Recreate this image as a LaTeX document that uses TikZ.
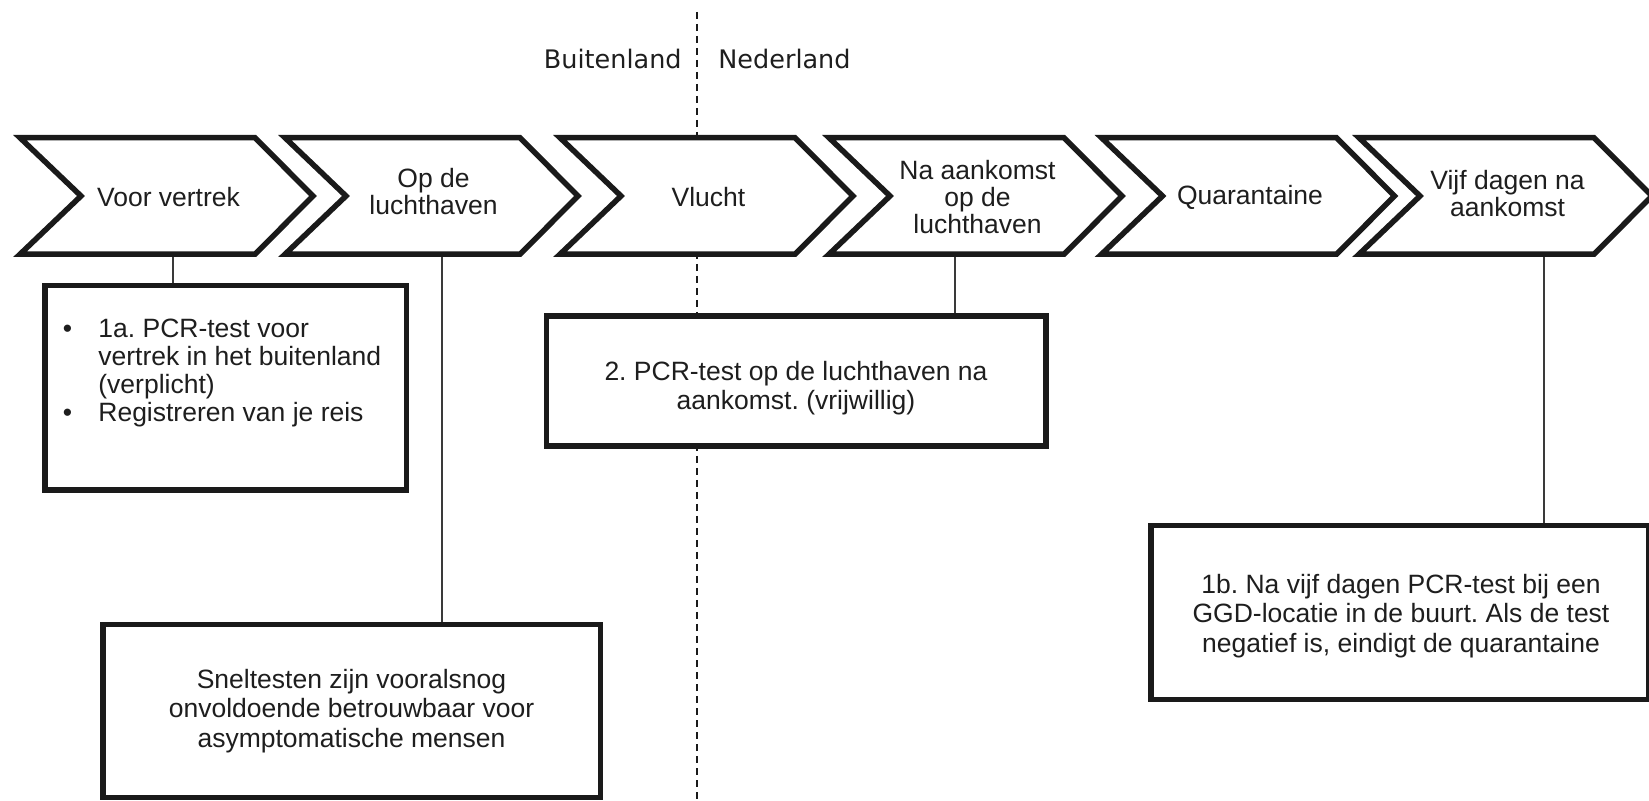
\documentclass[tikz,border=0pt]{standalone}
\usepackage{fontspec}
\setmainfont{Liberation Sans}
\newfontfamily\dejavu{DejaVu Sans}
\usepackage{array}
\frenchspacing
\definecolor{ink}{HTML}{1A1A1A}
\definecolor{txt}{HTML}{1E1E1E}
\definecolor{connc}{HTML}{3A3A3A}
\tikzset{
  chevline/.style={draw=ink, line width=2.75pt, fill=white, line join=miter},
  chevtext/.style={align=center, inner sep=0pt, text=txt, font=\fontsize{13.25}{13.5}\selectfont},
  box/.style={draw=ink, line width=2.75pt, fill=white, inner sep=0pt},
  boxtext/.style={align=center, inner sep=0pt, text=txt, font=\fontsize{13.25}{14.6}\selectfont},
  conn/.style={draw=connc, line width=0.75pt},
  divider/.style={draw=ink, line width=0.6pt, dash pattern=on 3.5pt off 2.5pt},
  region/.style={inner sep=0pt, text=txt, font=\dejavu\fontsize{12.75}{15}\selectfont},
}
\newcommand{\mychev}[4]{%
  \draw[chevline] ({#1+7},137.75) -- ({#1+242},137.75) -- ({#1+300},196) -- ({#1+242},254.25) -- ({#1+7},254.25) -- ({#1+68},196) -- cycle;
  \node[chevtext] (#2) at ({#1+155.5},#4) {#3};
}
\begin{document}
\begin{tikzpicture}[x=0.5pt, y=-0.5pt]
\fill[white] (0,0) rectangle (1649,801);
\useasboundingbox (0,0) rectangle (1649,801);

% divider
\coordinate (dtop) at (697,12);
\coordinate (dbot) at (697,801);
\draw[divider] (dtop) -- (dbot);

\node[region, anchor=base east] (buit) at (682,69) {Buitenland};
\node[region, anchor=base west] (ned) at (718,69) {Nederland};

% chevrons
\mychev{13}{c1}{Voor vertrek}{197}
\mychev{278}{c2}{Op de\\luchthaven}{192}
\mychev{553}{c3}{Vlucht}{197}
\mychev{822}{c4}{Na aankomst\\op de\\luchthaven}{197}
\mychev{1094.5}{c5}{Quarantaine}{197}
\mychev{1352}{c6}{Vijf dagen na\\aankomst}{194}

% boxes
\node[box, minimum width=180.75pt, minimum height=102.25pt] (b1) at (225.5,388) {};
\node[anchor=base west, inner sep=0pt, text=txt, font=\fontsize{13.25}{13.85}\selectfont] (b1t) at (62.5,338)
  {\begin{tabular}[t]{@{}p{17.75pt}@{}l@{}}\textbullet & 1a. PCR-test voor\\ & vertrek in het buitenland\\ & (verplicht)\\ \textbullet & Registreren van je reis\end{tabular}};

\node[box, minimum width=249.75pt, minimum height=65pt] (b2) at (796,381.25) {};
\node[boxtext] (b2t) at (796,388) {2. PCR-test op de luchthaven na\\aankomst. (vrijwillig)};

\node[box, boxtext, minimum width=248.75pt, minimum height=86.25pt] (b3) at (351.5,711)
  {Sneltesten zijn vooralsnog\\onvoldoende betrouwbaar voor\\asymptomatische mensen};

\node[box, minimum width=248.75pt, minimum height=86.75pt] (b4) at (1399.5,612.5) {};
\node[boxtext, font=\fontsize{13.25}{14.7}\selectfont] (b4t) at (1401,616)
  {1b. Na vijf dagen PCR-test bij een\\GGD-locatie in de buurt. Als de test\\negatief is, eindigt de quarantaine};

% connectors
\coordinate (f1) at (173,257);
\coordinate (f2) at (442,257);
\coordinate (f4) at (955,257);
\coordinate (f6) at (1544,257);
\draw[conn] (f1) -- (f1 |- b1.north);
\draw[conn] (f2) -- (f2 |- b3.north);
\draw[conn] (f4) -- (f4 |- b2.north);
\draw[conn] (f6) -- (f6 |- b4.north);
\end{tikzpicture}
\end{document}
